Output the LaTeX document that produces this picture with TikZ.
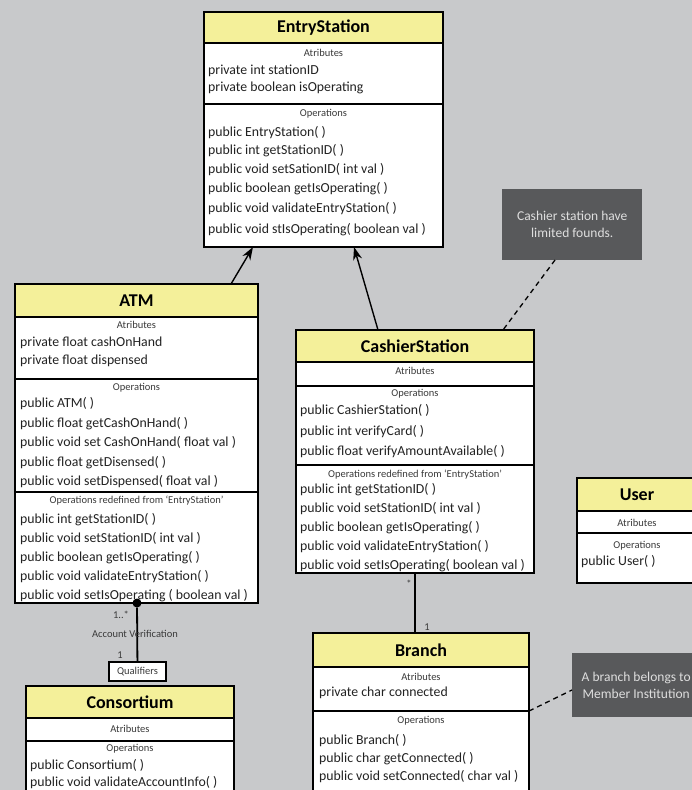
\documentclass[tikz,border=0pt]{standalone}
\usepackage{fontspec}
\setmainfont{Carlito}
\usetikzlibrary{shapes, arrows.meta}
\definecolor{bggray}{HTML}{C8C9CB}
\definecolor{umlyellow}{HTML}{F4F09A}
\definecolor{notegray}{HTML}{58595B}
\definecolor{notetext}{HTML}{DEDEDE}
\definecolor{inktext}{HTML}{222222}
\definecolor{captext}{HTML}{3A3A3A}
\tikzstyle{arrow} = [line width=1.4pt, -{Stealth[length=13pt, width=9pt]}]
\tikzstyle{assoc} = [line width=1.8pt]
\tikzstyle{classbox} = [rectangle, draw=black, line width=1.2pt, fill=white, anchor=north west, inner sep=0pt, outer sep=0pt]
\tikzstyle{titlebar} = [rectangle, draw=black, line width=1.2pt, fill=umlyellow, anchor=north west, inner sep=0pt, outer sep=0pt, font=\fontsize{18}{18}\selectfont\bfseries]
\tikzstyle{divider} = [line width=2pt]
\tikzstyle{caption} = [font=\fontsize{10.5}{10.5}\selectfont, text=captext, inner sep=0pt, yshift=-1pt]
\tikzstyle{member} = [anchor=west, font=\fontsize{13.8}{14}\selectfont, text=inktext, inner sep=0pt, yshift=-1.5pt]
\tikzstyle{mult} = [font=\fontsize{10.5}{10.5}\selectfont, text=captext, inner sep=0pt]
\tikzstyle{note} = [rectangle, fill=notegray, text=notetext, align=center, anchor=north west, inner sep=0pt, font=\fontsize{13.5}{17}\selectfont]
\tikzstyle{notelink} = [line width=1.3pt, dash pattern=on 5pt off 4pt]

\begin{document}
\begin{tikzpicture}[x=1pt, y=-1pt]
				\useasboundingbox (0,0) rectangle (692,790);
				\fill[bggray] (0,0) rectangle (692,790);
				\clip (0,0) rectangle (692,790);

				%notes
				\node(cashnote)[note, minimum width=140, minimum height=71] at (502,189) {Cashier station have\\limited founds.};
				\node(branchnote)[note, minimum width=128, minimum height=64] at (572,653) {A branch belongs to\\Member Institution};

				%EntryStation
				\node(entry)[classbox, minimum width=239, minimum height=235] at (204,12) {};
				\node(entrytitle)[titlebar, minimum width=239, minimum height=31] at (204,12) {EntryStation};
				\draw[divider] (204,104) -- (443,104);
				\node(entryattr)[caption] at (323.5,52) {Atributes};
				\node[member] at (208,69) {private int stationID};
				\node[member] at (208,86) {private boolean isOperating};
				\node(entryops)[caption] at (323.5,113) {Operations};
				\node[member] at (208,131) {public EntryStation( )};
				\node[member] at (208,149) {public int getStationID( )};
				\node[member] at (208,168) {public void setSationID( int val )};
				\node[member] at (208,187) {public boolean getIsOperating( )};
				\node[member] at (208,207) {public void validateEntryStation( )};
				\node[member] at (208,228) {public void stIsOperating( boolean val )};

				%ATM
				\node(atm)[classbox, minimum width=243, minimum height=319] at (15,284) {};
				\node(atmtitle)[titlebar, minimum width=243, minimum height=33] at (15,284) {ATM};
				\draw[divider] (15,379) -- (258,379);
				\draw[divider] (15,492) -- (258,492);
				\node(atmattr)[caption] at (136.5,324) {Atributes};
				\node[member] at (20,341) {private float cashOnHand};
				\node[member] at (20,359) {private float dispensed};
				\node(atmops)[caption] at (136.5,387) {Operations};
				\node[member] at (20,402) {public ATM( )};
				\node[member] at (20,422) {public float getCashOnHand( )};
				\node[member] at (20,441) {public void set CashOnHand( float val )};
				\node[member] at (20,461) {public float getDisensed( )};
				\node[member] at (20,480) {public void setDispensed( float val )};
				\node(atmredef)[caption] at (136.5,500) {Operations redefined from `EntryStation'};
				\node[member] at (20,518) {public int getStationID( )};
				\node[member] at (20,537) {public void setStationID( int val )};
				\node[member] at (20,556) {public boolean getIsOperating( )};
				\node[member] at (20,575) {public void validateEntryStation( )};
				\node[member] at (20,594) {public void setIsOperating ( boolean val )};

				%CashierStation
				\node(cashier)[classbox, minimum width=238, minimum height=243] at (296,330) {};
				\node(cashiertitle)[titlebar, minimum width=238, minimum height=32] at (296,330) {CashierStation};
				\draw[divider] (296,386) -- (534,386);
				\draw[divider] (296,465) -- (534,465);
				\node(cashierattr)[caption] at (415,370) {Atributes};
				\node(cashierops)[caption] at (415,393) {Operations};
				\node[member] at (300,409) {public CashierStation( )};
				\node[member] at (300,430) {public int verifyCard( )};
				\node[member] at (300,450) {public float verifyAmountAvailable( )};
				\node(cashierredef)[caption] at (415,474) {Operations redefined from `EntryStation'};
				\node[member] at (300,488) {public int getStationID( )};
				\node[member] at (300,507) {public void setStationID( int val )};
				\node[member] at (300,526) {public boolean getIsOperating( )};
				\node[member] at (300,545) {public void validateEntryStation( )};
				\node[member] at (300,564) {public void setIsOperating( boolean val )};

				%User
				\node(user)[classbox, minimum width=120, minimum height=105] at (577,478) {};
				\node(usertitle)[titlebar, minimum width=120, minimum height=33] at (577,478) {User};
				\draw[divider] (577,533) -- (697,533);
				\node(userattr)[caption] at (637,522) {Atributes};
				\node(userops)[caption] at (637,545) {Operations};
				\node[member] at (581,560) {public User( )};

				%Branch
				\node(branch)[classbox, minimum width=216, minimum height=200] at (313,633) {};
				\node(branchtitle)[titlebar, minimum width=216, minimum height=34] at (313,633) {Branch};
				\draw[divider] (313,711) -- (529,711);
				\node(branchattr)[caption] at (421,676) {Atributes};
				\node[member] at (319,691) {private char connected};
				\node(branchops)[caption] at (421,720) {Operations};
				\node[member] at (319,739) {public Branch( )};
				\node[member] at (319,757) {public char getConnected( )};
				\node[member] at (319,775) {public void setConnected( char val )};

				%Consortium
				\node(consortium)[classbox, minimum width=208, minimum height=150] at (26,686) {};
				\node(consortiumtitle)[titlebar, minimum width=208, minimum height=32] at (26,686) {Consortium};
				\draw[divider] (26,741) -- (234,741);
				\node(consortiumattr)[caption] at (130,728) {Atributes};
				\node(consortiumops)[caption] at (130,748) {Operations};
				\node[member] at (30,764) {public Consortium( )};
				\node[member] at (30,781) {public void validateAccountInfo( )};

				%qualifier and association ends
				\node(qual)[rectangle, draw=black, line width=1.2pt, fill=white, minimum width=57, minimum height=19, inner sep=0pt, text=captext, font=\fontsize{10.5}{10.5}\selectfont] at (137.5,671.5) {Qualifiers};
				\node(verifdot)[circle, fill=black, inner sep=0pt, minimum size=9] at (137,603) {};
				\coordinate(atmtop) at (231,284);
				\coordinate(entryfootleft) at (253,247);
				\coordinate(cashiertop) at (378,330);
				\coordinate(entryfootright) at (354,247);
				\coordinate(cashierfoot) at (415,573);
				\coordinate(branchtop) at (415,633);
				\coordinate(cashnotefoot) at (555,260);
				\coordinate(cashiercorner) at (503,330);
				\coordinate(branchside) at (529,711);
				\coordinate(branchnoteside) at (572,690);

				%arrows
					\draw [arrow] (atmtop) -- (entryfootleft);
					\draw [arrow] (cashiertop) -- (entryfootright);
					\draw [assoc] (verifdot) -- (qual);
					\draw [assoc] (cashierfoot) -- (branchtop);
					\draw [notelink] (cashnotefoot) -- (cashiercorner);
					\draw [notelink] (branchside) -- (branchnoteside);

				%labels
				\node(verifmany)[mult] at (121,615) {1..*};
				\node(veriflabel)[mult] at (135,634) {Account Verification};
				\node(verifone)[mult] at (120,655) {1};
				\node(branchmany)[mult] at (409,584) {*};
				\node(branchone)[mult] at (427,627) {1};
\end{tikzpicture}
\end{document}
